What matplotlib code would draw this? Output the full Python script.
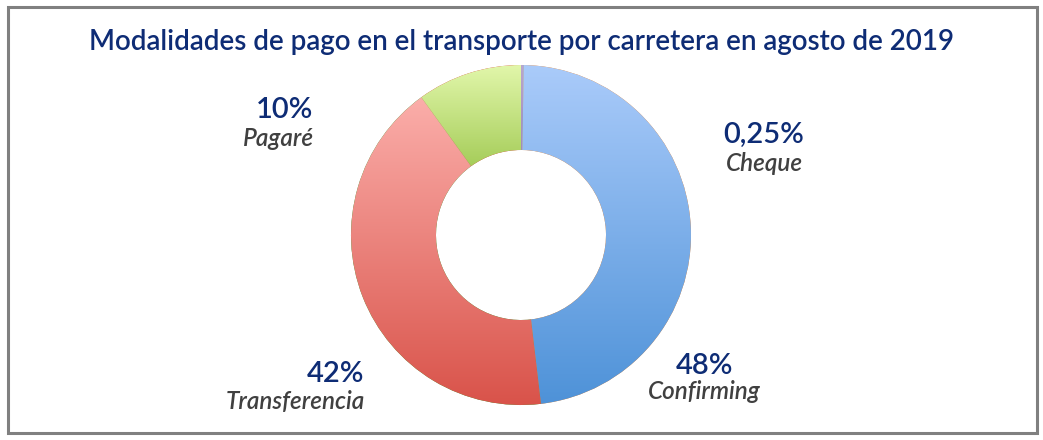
import matplotlib.pyplot as plt
import matplotlib.colors as mcolors
import numpy as np

# Datos del grafico
categorias = ["Cheque", "Confirming", "Transferencia", "Pagaré"]
porcentajes = [0.25, 48, 42, 10]
etiquetas_pct = ["0,25%", "48%", "42%", "10%"]

# Colores degradados (arriba, abajo)
colores_top = ["#B9A6CF", "#AACBFA", "#FBAEAA", "#E2F7AB"]
colores_bottom = ["#A08CBC", "#4E92D8", "#D9534A", "#A6CD5A"]

# Posicion de las etiquetas (x, y del porcentaje, y de la categoria, alineacion)
pos_etiquetas = [(1.43, 0.59, 0.42, "center"), (1.08, -0.77, -0.92, "center"),
                 (-0.92, -0.82, -0.98, "right"), (-1.22, 0.735, 0.57, "right")]

plt.rcParams['font.family'] = ['Lato', 'DejaVu Sans']

fig = plt.figure(figsize=(10.43, 4.40), dpi=100)
ax = fig.add_axes([0, 0, 1, 1])

wedges, _ = ax.pie(porcentajes, startangle=90, counterclock=False,
                   radius=1.0, wedgeprops=dict(width=0.5, linewidth=0))

# Relleno degradado vertical para cada sector
for w, c1, c2 in zip(wedges, colores_top, colores_bottom):
    cmap = mcolors.LinearSegmentedColormap.from_list("g", [c2, c1])
    bb = w.get_path().get_extents(w.get_patch_transform())
    grad = np.linspace(0, 1, 256).reshape(-1, 1)
    im = ax.imshow(grad, cmap=cmap, origin="lower", aspect="auto",
                   extent=(bb.x0, bb.x1, bb.y0, bb.y1), zorder=w.get_zorder() + 0.1)
    im.set_clip_path(w)

# Escala: centro del anillo en (521, 235) px, radio 170 px
ax.set_xlim(-521 / 170, (1043 - 521) / 170)
ax.set_ylim(-205 / 170, 235 / 170)
ax.set_aspect("auto")
ax.axis("off")

for (x, y1, y2, ha), pct, cat in zip(pos_etiquetas, etiquetas_pct, categorias):
    ax.text(x, y1, pct, ha=ha, va="center", fontsize=21, weight="semibold",
            color="#0E2C75")
    ax.text(x, y2, cat, ha=ha, va="center", fontsize=17.5, weight="semibold",
            style="italic", color="#404040")

fig.text(0.5, 1 - 42 / 440, "Modalidades de pago en el transporte por carretera en agosto de 2019",
         ha="center", va="center", fontsize=20, weight="semibold", color="#0E2C75")

# Marco gris
fig.patches.append(plt.Rectangle((7.5 / 1043, 7.5 / 440), 1029 / 1043, 425 / 440,
                                 transform=fig.transFigure, fill=False,
                                 edgecolor="#808080", linewidth=2.2))

fig.savefig("out.png", dpi=100)
